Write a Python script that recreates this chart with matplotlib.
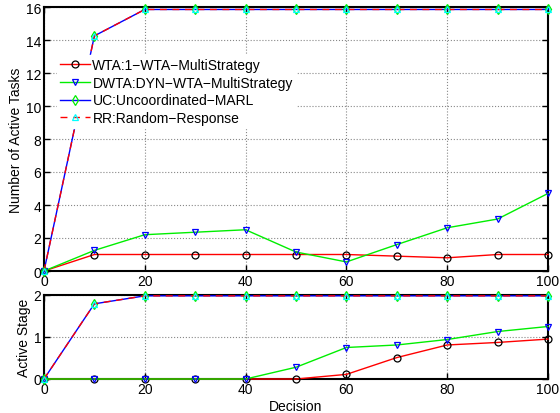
import matplotlib
matplotlib.use("Agg")
import matplotlib.pyplot as plt

plt.rcParams['font.family'] = ['Liberation Sans', 'DejaVu Sans']
plt.rcParams['font.size'] = 10

decisions = [0, 10, 20, 30, 40, 50, 60, 70, 80, 90, 100]

tasks_wta = [0, 1.0, 1.0, 1.0, 1.0, 1.0, 1.0, 0.9, 0.8, 1.0, 1.0]
tasks_dwta = [0, 1.25, 2.2, 2.35, 2.5, 1.15, 0.55, 1.6, 2.62, 3.15, 4.7]
tasks_uc = [0, 14.25, 15.85, 15.85, 15.85, 15.85, 15.85, 15.85, 15.85, 15.85, 15.85]
tasks_rr = [0, 14.25, 15.85, 15.85, 15.85, 15.85, 15.85, 15.85, 15.85, 15.85, 15.85]

stage_wta = [0, 0, 0, 0, 0, 0, 0.11, 0.51, 0.81, 0.87, 0.95]
stage_dwta = [0, 0, 0, 0, 0, 0.28, 0.75, 0.81, 0.94, 1.13, 1.25]
stage_uc = [0, 1.79, 1.98, 1.98, 1.98, 1.98, 1.98, 1.98, 1.98, 1.98, 1.98]
stage_rr = [0, 1.79, 1.98, 1.98, 1.98, 1.98, 1.98, 1.98, 1.98, 1.98, 1.98]

labels = ['WTA:1\u2212WTA\u2212MultiStrategy',
          'DWTA:DYN\u2212WTA\u2212MultiStrategy',
          'UC:Uncoordinated\u2212MARL',
          'RR:Random\u2212Response']

fig = plt.figure(figsize=(5.6, 4.14), dpi=100)
ax1 = fig.add_axes([44/560, 1-272/414, 504/560, 264/414])
ax2 = fig.add_axes([44/560, 1-380/414, 504/560, 84/414])
ax2.set_zorder(3)
ax2.patch.set_facecolor('white')

def draw(ax, wta, dwta, uc, rr):
    ms = 5
    ax.plot(decisions, wta, color='red', lw=1.0, marker='o', ms=ms,
            mfc='none', mec='black', mew=0.9, clip_on=False, zorder=3, label=labels[0])
    ax.plot(decisions, dwta, color='#00ee00', lw=1.0, marker='v', ms=ms,
            mfc='none', mec='blue', mew=0.9, clip_on=False, zorder=3, label=labels[1])
    ax.plot(decisions, uc, color='blue', lw=1.0, marker='d', ms=ms,
            mfc='none', mec='#00ee00', mew=0.9, clip_on=False, zorder=3, label=labels[2])
    ax.plot(decisions, rr, color='red', lw=1.0, ls=(0, (5, 4)), marker='^', ms=ms,
            mfc='none', mec='cyan', mew=0.9, clip_on=False, zorder=3, label=labels[3])

draw(ax1, tasks_wta, tasks_dwta, tasks_uc, tasks_rr)
draw(ax2, stage_wta, stage_dwta, stage_uc, stage_rr)

for ax in (ax1, ax2):
    ax.set_xlim(0, 100)
    ax.set_xticks([0, 20, 40, 60, 80, 100])
    ax.grid(True, ls=':', color='#888888', lw=0.8)
    ax.tick_params(direction='in', length=4, width=1.0, top=True, right=True,
                   pad=2, labelsize=10)
    for sp in ax.spines.values():
        sp.set_linewidth(1.5)
        sp.set_color('black')
    ax.set_axisbelow(True)

ax1.set_ylim(0, 16)
ax1.set_yticks(range(0, 17, 2))
ax1.set_ylabel('Number of Active Tasks', labelpad=2)
ax1.set_xlabel('Decision', labelpad=4)

ax2.set_ylim(0, 2)
ax2.set_yticks([0, 1, 2])
ax2.set_ylabel('Active Stage', labelpad=2)
ax2.set_xlabel('Decision', labelpad=2)

leg = ax1.legend(loc='upper left', bbox_to_anchor=(0.012, 0.845), frameon=True,
                 fancybox=False, edgecolor='white', framealpha=1.0,
                 handlelength=2.2, handletextpad=0.15, labelspacing=0.28,
                 borderpad=0.2, fontsize=10)

fig.savefig('out.png', dpi=100)
